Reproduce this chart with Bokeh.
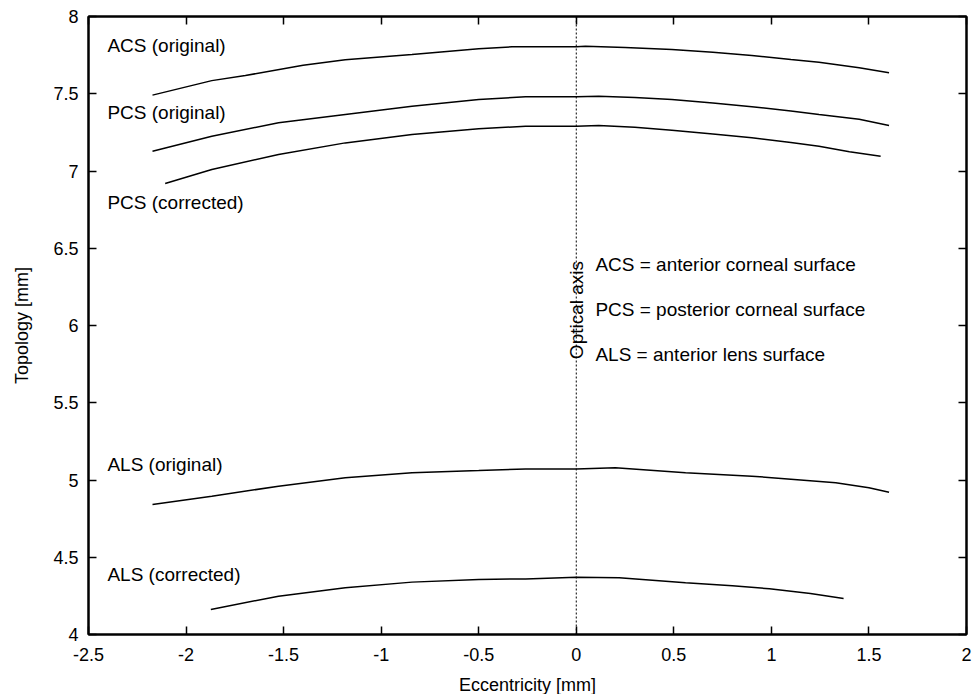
from bokeh.plotting import figure
from bokeh.models import (Range1d, FixedTicker, LinearAxis, Span, ColumnDataSource)
from bokeh.core.properties import value
from bokeh.embed import file_html
from bokeh.resources import INLINE

# ---------------- data ----------------
acs_x = [-2.172, -1.868, -1.696, -1.40, -1.184, -0.842, -0.5, -0.329, 0.0, 0.047, 0.25, 0.49, 0.70, 0.90, 1.10, 1.244, 1.45, 1.603]
acs_y = [7.491, 7.585, 7.618, 7.685, 7.720, 7.754, 7.791, 7.804, 7.804, 7.808, 7.800, 7.786, 7.768, 7.748, 7.722, 7.704, 7.668, 7.636]

pcs_x = [-2.172, -1.868, -1.526, -1.184, -0.842, -0.5, -0.26, 0.0, 0.115, 0.30, 0.49, 0.70, 0.90, 1.10, 1.244, 1.45, 1.603]
pcs_y = [7.128, 7.225, 7.312, 7.366, 7.419, 7.463, 7.480, 7.480, 7.484, 7.476, 7.463, 7.440, 7.416, 7.388, 7.366, 7.335, 7.294]

pcsc_x = [-2.107, -1.868, -1.526, -1.184, -0.842, -0.5, -0.26, 0.0, 0.115, 0.30, 0.49, 0.70, 0.90, 1.10, 1.244, 1.40, 1.56]
pcsc_y = [6.919, 7.010, 7.107, 7.182, 7.236, 7.273, 7.290, 7.290, 7.294, 7.283, 7.264, 7.240, 7.215, 7.185, 7.160, 7.125, 7.096]

als_x = [-2.172, -1.868, -1.526, -1.184, -0.842, -0.5, -0.26, 0.0, 0.2, 0.56, 0.90, 1.10, 1.33, 1.50, 1.603]
als_y = [4.841, 4.895, 4.960, 5.014, 5.047, 5.061, 5.072, 5.072, 5.079, 5.047, 5.025, 5.005, 4.982, 4.950, 4.921]

alsc_x = [-1.873, -1.526, -1.184, -0.842, -0.5, -0.26, 0.0, 0.22, 0.56, 0.80, 0.99, 1.20, 1.37]
alsc_y = [4.162, 4.248, 4.302, 4.339, 4.356, 4.360, 4.371, 4.367, 4.335, 4.315, 4.296, 4.265, 4.233]

curve_labels = ["ACS (original)", "PCS (original)", "PCS (corrected)", "ALS (original)", "ALS (corrected)"]
curve_label_x = [-2.403, -2.403, -2.403, -2.403, -2.403]
curve_label_y = [7.812, 7.379, 6.796, 5.100, 4.388]

legend_texts = ["ACS = anterior corneal surface", "PCS = posterior corneal surface", "ALS = anterior lens surface"]
legend_x = [0.098, 0.098, 0.098]
legend_y = [6.395, 6.104, 5.812]

optical_axis_x = 0.0
optical_axis_label = "Optical axis"
optical_axis_label_y = 6.10

x_ticks = [-2.5, -2.0, -1.5, -1.0, -0.5, 0.0, 0.5, 1.0, 1.5, 2.0]
x_tick_labels = ["-2.5", "-2", "-1.5", "-1", "-0.5", "0", "0.5", "1", "1.5", "2"]
y_ticks = [4.0, 4.5, 5.0, 5.5, 6.0, 6.5, 7.0, 7.5, 8.0]
y_tick_labels = ["4", "4.5", "5", "5.5", "6", "6.5", "7", "7.5", "8"]

FONT = "Liberation Sans"

p = figure(frame_width=878, frame_height=618,
           x_range=Range1d(-2.5, 2.0), y_range=Range1d(4.0, 8.0),
           output_backend="svg", toolbar_location=None,
           min_border_left=88, min_border_right=6, min_border_top=16, min_border_bottom=55,
           background_fill_color="white", border_fill_color="white")
p.grid.visible = False
p.outline_line_color = "black"
p.outline_line_width = 2

def style_axis(ax, ticks, labels, show_labels=True):
    ax.ticker = FixedTicker(ticks=ticks)
    ax.major_tick_in = 8
    ax.major_tick_out = 0
    ax.major_tick_line_width = 1.5
    ax.major_tick_line_color = "black"
    ax.minor_tick_line_color = None
    ax.axis_line_width = 2
    ax.axis_line_color = "black"
    ax.major_label_text_font = FONT
    if show_labels:
        ax.major_label_overrides = dict(zip(ticks, labels))
        ax.major_label_text_color = "black"
        ax.major_label_text_font_size = "18px"
        ax.major_label_standoff = 10
    else:
        ax.major_label_text_color = None
        ax.major_label_text_font_size = "0px"
        ax.major_label_standoff = 0

style_axis(p.xaxis[0], x_ticks, x_tick_labels)
style_axis(p.yaxis[0], y_ticks, y_tick_labels)
p.xaxis[0].major_label_standoff = 13
p.xaxis[0].axis_label = "Eccentricity [mm]"
p.yaxis[0].axis_label = "Topology [mm]"
for ax in (p.xaxis[0], p.yaxis[0]):
    ax.axis_label_text_font = FONT
    ax.axis_label_text_font_size = "18px"
    ax.axis_label_text_font_style = "normal"
    ax.axis_label_text_color = "black"
p.xaxis[0].axis_label_standoff = 11
p.yaxis[0].axis_label_standoff = 18

top_ax = LinearAxis()
style_axis(top_ax, x_ticks, x_tick_labels, show_labels=False)
p.add_layout(top_ax, "above")
right_ax = LinearAxis()
style_axis(right_ax, y_ticks, y_tick_labels, show_labels=False)
p.add_layout(right_ax, "right")

# optical axis
p.add_layout(Span(location=optical_axis_x, dimension="height", line_color="black",
                  line_width=1, line_dash="2 2"))

for xs, ys in [(acs_x, acs_y), (pcs_x, pcs_y), (pcsc_x, pcsc_y), (als_x, als_y), (alsc_x, alsc_y)]:
    p.line(xs, ys, line_color="black", line_width=1.5)

src_lab = ColumnDataSource(dict(x=curve_label_x, y=curve_label_y, t=curve_labels))
p.text(x="x", y="y", text="t", source=src_lab, text_font=value(FONT), text_font_size="19px",
       text_align="left", text_baseline="middle", text_color="black")

src_leg = ColumnDataSource(dict(x=legend_x, y=legend_y, t=legend_texts))
p.text(x="x", y="y", text="t", source=src_leg, text_font=value(FONT), text_font_size="19px",
       text_align="left", text_baseline="middle", text_color="black")

p.text(x=[optical_axis_x], y=[optical_axis_label_y], text=[optical_axis_label], angle=1.5708,
       text_font=value(FONT), text_font_size="19px", text_align="center",
       text_baseline="middle", text_color="black")

open("out.html", "w").write(file_html(p, INLINE))
